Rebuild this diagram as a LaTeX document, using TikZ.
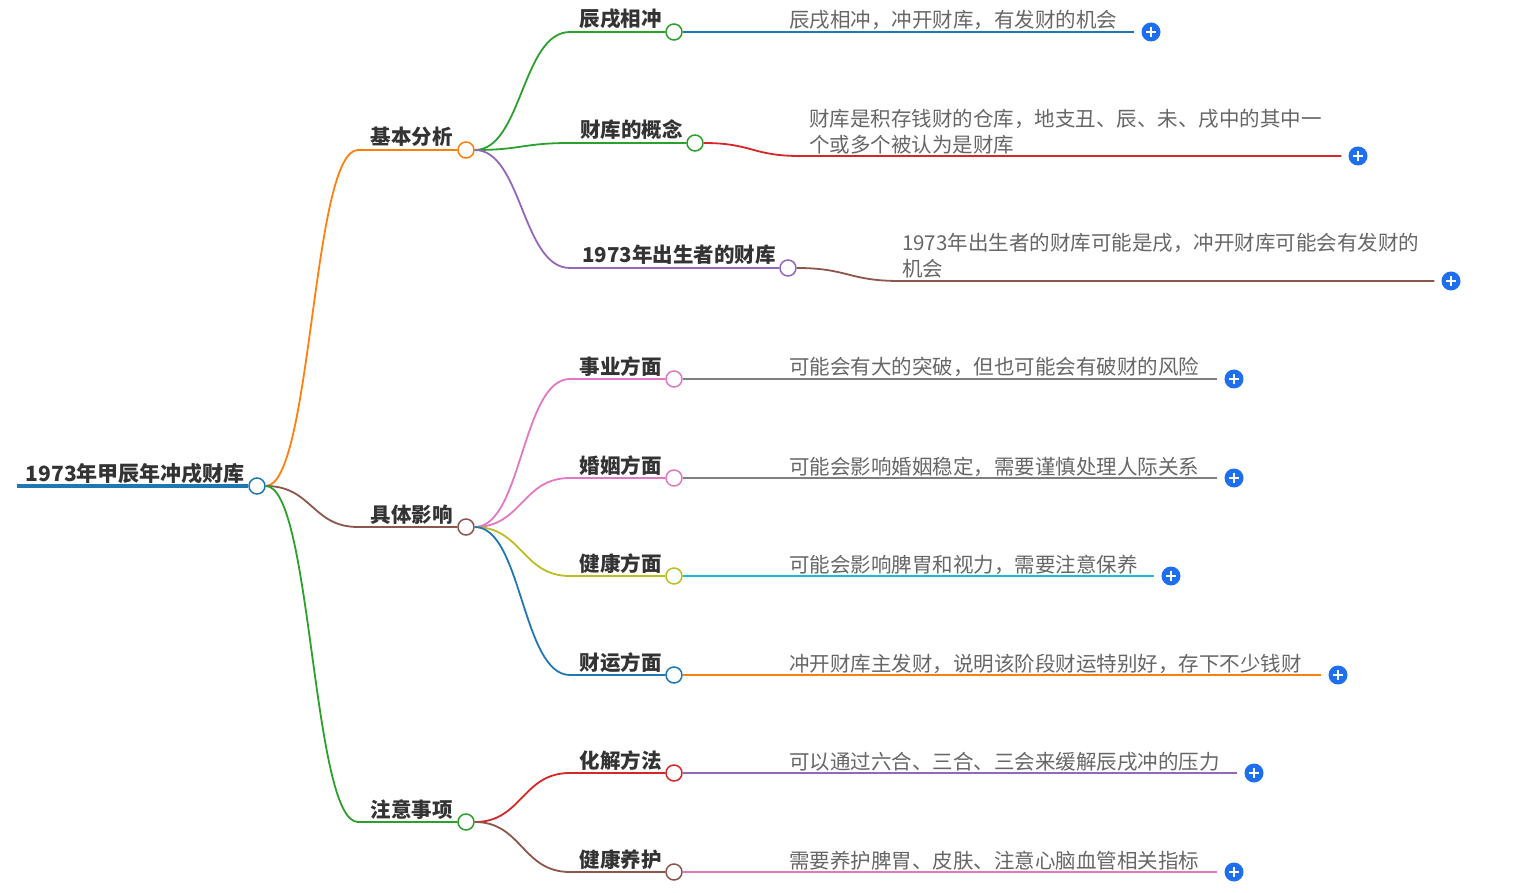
\documentclass[tikz,border=0pt]{standalone}
\usepackage{fontspec}
\newfontfamily\cjk{Noto Sans CJK SC}
\definecolor{tblue}{HTML}{1F77B4}
\definecolor{torange}{HTML}{FF7F0E}
\definecolor{tgreen}{HTML}{2CA02C}
\definecolor{tred}{HTML}{D62728}
\definecolor{tpurple}{HTML}{9467BD}
\definecolor{tbrown}{HTML}{8C564B}
\definecolor{tpink}{HTML}{E377C2}
\definecolor{tgray}{HTML}{7F7F7F}
\definecolor{tolive}{HTML}{BCBD22}
\definecolor{tcyan}{HTML}{17BECF}
\definecolor{plusblue}{HTML}{1E6EF0}
\definecolor{txtdark}{HTML}{333333}
\definecolor{txtgray}{HTML}{666666}
\tikzset{
  edge/.style={line width=1.8pt},
  hub/.style={circle, draw, fill=white, line width=1.5pt, minimum size=16pt, inner sep=0pt},
  topic/.style={font=\cjk\bfseries\fontsize{20.5}{24}\selectfont, text=txtdark, anchor=base east, inner sep=0pt},
  note/.style={font=\cjk\fontsize{20.5}{26}\selectfont, text=txtgray, anchor=base west, inner sep=0pt, align=left},
  expand/.style={circle, fill=plusblue, minimum size=19pt, inner sep=0pt,
    path picture={\draw[white, line width=2pt]
      ([xshift=-5pt]path picture bounding box.center) -- ([xshift=5pt]path picture bounding box.center)
      ([yshift=-5pt]path picture bounding box.center) -- ([yshift=5pt]path picture bounding box.center);}}
}
\begin{document}
\begin{tikzpicture}[x=1pt, y=-1pt]
\useasboundingbox (0,0) rectangle (1519,893);
% root
\node[hub, draw=tblue] (root) at (257,486) {};
\node[topic, font=\cjk\bfseries\fontsize{21}{24}\selectfont] (root-t) at (245,481) {1973年甲辰年冲戌财库};
\coordinate (root-s) at (17,486);
\draw[tblue, line width=4.5pt] (root-s) -- (root.west);
% level one
\node[hub, draw=torange] (jb) at (466,150) {};
\node[topic] (jb-t) at (453,145) {基本分析};
\coordinate (jb-s) at (358,150);
\draw[edge, torange] (root.east) .. controls (312,486) and (312,150) .. (jb-s) -- (jb.west);
\node[hub, draw=tbrown] (jt) at (466,527) {};
\node[topic] (jt-t) at (453,522) {具体影响};
\coordinate (jt-s) at (358,527);
\draw[edge, tbrown] (root.east) .. controls (312,486) and (312,527) .. (jt-s) -- (jt.west);
\node[hub, draw=tgreen] (zy) at (466,822) {};
\node[topic] (zy-t) at (453,817) {注意事项};
\coordinate (zy-s) at (358,822);
\draw[edge, tgreen] (root.east) .. controls (312,486) and (312,822) .. (zy-s) -- (zy.west);
% basic analysis
\node[hub, draw=tgreen] (cx) at (674,32) {};
\node[topic] (cx-t) at (662,27) {辰戌相冲};
\coordinate (cx-s) at (570,32);
\draw[edge, tgreen] (jb.east) .. controls (522,150) and (522,32) .. (cx-s) -- (cx.west);
\node[hub, draw=tgreen] (gn) at (695,143) {};
\node[topic] (gn-t) at (683,138) {财库的概念};
\coordinate (gn-s) at (570,143);
\draw[edge, tgreen] (jb.east) .. controls (522,150) and (522,143) .. (gn-s) -- (gn.west);
\node[hub, draw=tpurple] (cs) at (788,268) {};
\node[topic] (cs-t) at (776,263) {1973年出生者的财库};
\coordinate (cs-s) at (570,268);
\draw[edge, tpurple] (jb.east) .. controls (522,150) and (522,268) .. (cs-s) -- (cs.west);
% details of the analysis
\node[expand] (cx-p) at (1151,32) {};
\node[note] (cx-n) at (789,28) {辰戌相冲，冲开财库，有发财的机会};
\draw[edge, tblue] (cx.east) -- ([xshift=-7pt]cx-p.west);
\node[expand] (gn-p) at (1358,156) {};
\node[note] (gn-n) at (809,153) {财库是积存钱财的仓库，地支丑、辰、未、戌中的其中一\\个或多个被认为是财库};
\coordinate (gn-s2) at (800,156);
\draw[edge, tred] (gn.east) .. controls (752,143) and (752,156) .. (gn-s2) -- ([xshift=-7pt]gn-p.west);
\node[expand] (cs-p) at (1451,281) {};
\node[note] (cs-n) at (902,277) {1973年出生者的财库可能是戌，冲开财库可能会有发财的\\机会};
\coordinate (cs-s2) at (900,281);
\draw[edge, tbrown] (cs.east) .. controls (848,268) and (848,281) .. (cs-s2) -- ([xshift=-7pt]cs-p.west);
% concrete effects
\node[hub, draw=tpink] (sy) at (674,379) {};
\node[topic] (sy-t) at (662,374) {事业方面};
\coordinate (sy-s) at (570,379);
\draw[edge, tpink] (jt.east) .. controls (522,527) and (522,379) .. (sy-s) -- (sy.west);
\node[hub, draw=tpink] (hy) at (674,478) {};
\node[topic] (hy-t) at (662,473) {婚姻方面};
\coordinate (hy-s) at (570,478);
\draw[edge, tpink] (jt.east) .. controls (522,527) and (522,478) .. (hy-s) -- (hy.west);
\node[hub, draw=tolive] (jk) at (674,576) {};
\node[topic] (jk-t) at (662,571) {健康方面};
\coordinate (jk-s) at (570,576);
\draw[edge, tolive] (jt.east) .. controls (522,527) and (522,576) .. (jk-s) -- (jk.west);
\node[hub, draw=tblue] (cy) at (674,675) {};
\node[topic] (cy-t) at (662,670) {财运方面};
\coordinate (cy-s) at (570,675);
\draw[edge, tblue] (jt.east) .. controls (522,527) and (522,675) .. (cy-s) -- (cy.west);
\node[expand] (sy-p) at (1234,379) {};
\node[note] (sy-n) at (789,375) {可能会有大的突破，但也可能会有破财的风险};
\draw[edge, tgray] (sy.east) -- ([xshift=-7pt]sy-p.west);
\node[expand] (hy-p) at (1234,478) {};
\node[note] (hy-n) at (789,474) {可能会影响婚姻稳定，需要谨慎处理人际关系};
\draw[edge, tgray] (hy.east) -- ([xshift=-7pt]hy-p.west);
\node[expand] (jk-p) at (1171,576) {};
\node[note] (jk-n) at (789,572) {可能会影响脾胃和视力，需要注意保养};
\draw[edge, tcyan] (jk.east) -- ([xshift=-7pt]jk-p.west);
\node[expand] (cy-p) at (1338,675) {};
\node[note] (cy-n) at (789,671) {冲开财库主发财，说明该阶段财运特别好，存下不少钱财};
\draw[edge, torange] (cy.east) -- ([xshift=-7pt]cy-p.west);
% precautions
\node[hub, draw=tred] (hj) at (674,773) {};
\node[topic] (hj-t) at (662,768) {化解方法};
\coordinate (hj-s) at (570,773);
\draw[edge, tred] (zy.east) .. controls (522,822) and (522,773) .. (hj-s) -- (hj.west);
\node[hub, draw=tbrown] (yh) at (674,872) {};
\node[topic] (yh-t) at (662,867) {健康养护};
\coordinate (yh-s) at (570,872);
\draw[edge, tbrown] (zy.east) .. controls (522,822) and (522,872) .. (yh-s) -- (yh.west);
\node[expand] (hj-p) at (1254,773) {};
\node[note] (hj-n) at (789,769) {可以通过六合、三合、三会来缓解辰戌冲的压力};
\draw[edge, tpurple] (hj.east) -- ([xshift=-7pt]hj-p.west);
\node[expand] (yh-p) at (1234,872) {};
\node[note] (yh-n) at (789,868) {需要养护脾胃、皮肤、注意心脑血管相关指标};
\draw[edge, tpink] (yh.east) -- ([xshift=-7pt]yh-p.west);
\end{tikzpicture}
\end{document}
